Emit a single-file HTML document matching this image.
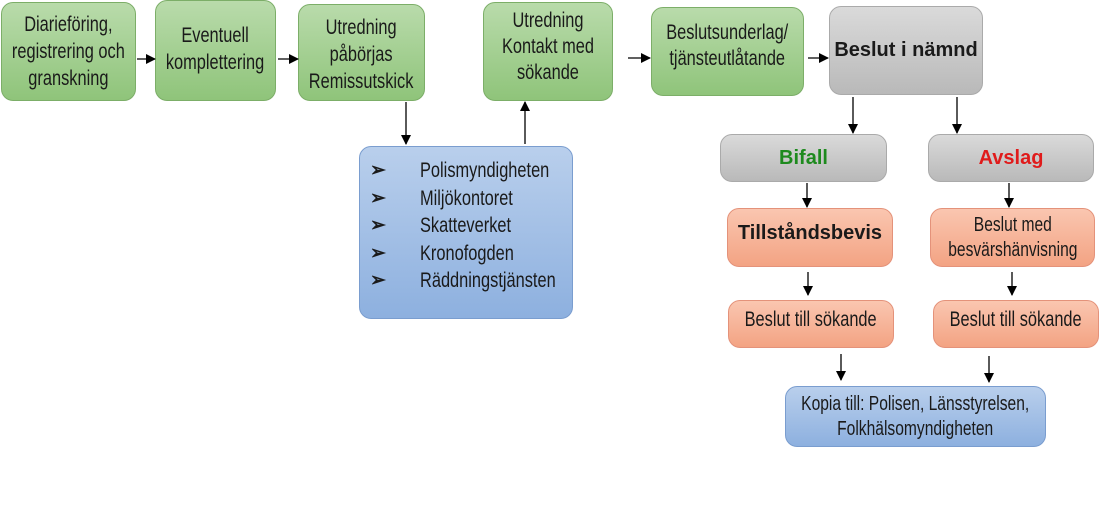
<!DOCTYPE html>
<html><head><meta charset="utf-8"><style>
body{margin:0;width:1100px;height:520px;background:#fff;position:relative;overflow:hidden;font-family:"Liberation Sans",sans-serif;color:#1a1a1a}
.b{position:absolute;box-sizing:border-box;border-radius:12px;display:flex;align-items:center;justify-content:center;text-align:center}
.t{display:inline-block;transform:scaleX(.78);white-space:nowrap;font-size:21px;line-height:27px}
.g{background:linear-gradient(#b9dbab,#8fc47a);border:1px solid #7cae68}
.gr{background:linear-gradient(#dadada,#b9b9b9);border:1px solid #aaa}
.o{background:linear-gradient(#fac6b0,#f3a383);border:1px solid #e4927a}
.bl{background:linear-gradient(#b9cfec,#8db0df);border:1px solid #7a9dcf}
.bold{font-weight:bold;font-size:20px}
svg{position:absolute;left:0;top:0}
</style></head><body>
<div class="b g" style="left:1px;top:2px;width:135px;height:99px"><span class="t">Diarieföring,<br>registrering och<br>granskning</span></div>
<div class="b g" style="left:155px;top:0;width:121px;height:101px;padding-bottom:4px"><span class="t">Eventuell<br>komplettering</span></div>
<div class="b g" style="left:298px;top:4px;width:127px;height:97px;padding-top:4px"><span class="t">Utredning<br>påbörjas<br>Remissutskick</span></div>
<div class="b g" style="left:483px;top:2px;width:130px;height:99px;align-items:flex-start;padding-top:5px"><span class="t" style="line-height:26px">Utredning<br>Kontakt med<br>sökande</span></div>
<div class="b g" style="left:651px;top:7px;width:153px;height:89px;align-items:flex-start;padding-top:12px"><span class="t" style="line-height:26px">Beslutsunderlag/<br>tjänsteutlåtande</span></div>
<div class="b gr bold" style="left:829px;top:6px;width:154px;height:89px;align-items:flex-start;padding-top:32px">Beslut i nämnd</div>
<div class="b bl" style="left:359px;top:146px;width:214px;height:173px;overflow:visible"></div>
<div style="position:absolute;left:370px;top:157px;width:40px;font-size:19px;line-height:27.5px;font-weight:bold">➢<br>➢<br>➢<br>➢<br>➢</div>
<span class="t" style="position:absolute;left:420px;top:157px;transform-origin:0 0;line-height:27.5px">Polismyndigheten<br>Miljökontoret<br>Skatteverket<br>Kronofogden<br>Räddningstjänsten</span>
<div class="b gr bold" style="left:720px;top:134px;width:167px;height:48px;color:#1e8a1e;align-items:flex-start;padding-top:12px">Bifall</div>
<div class="b gr bold" style="left:928px;top:134px;width:166px;height:48px;color:#e01b1b;align-items:flex-start;padding-top:12px">Avslag</div>
<div class="b o bold" style="left:727px;top:208px;width:166px;height:59px;align-items:flex-start;padding-top:13px">Tillståndsbevis</div>
<div class="b o" style="left:930px;top:208px;width:165px;height:59px"><span class="t" style="line-height:25px;font-size:20px">Beslut med<br>besvärshänvisning</span></div>
<div class="b o" style="left:728px;top:300px;width:166px;height:48px;align-items:flex-start;padding-top:5px"><span class="t">Beslut till sökande</span></div>
<div class="b o" style="left:933px;top:300px;width:166px;height:48px;align-items:flex-start;padding-top:5px"><span class="t">Beslut till sökande</span></div>
<div class="b bl" style="left:785px;top:386px;width:261px;height:61px"><span class="t" style="line-height:25px;font-size:20px">Kopia till: Polisen, Länsstyrelsen,<br>Folkhälsomyndigheten</span></div>
<svg width="1100" height="520">
<defs><marker id="a" markerWidth="10" markerHeight="10" refX="9" refY="5" orient="auto" markerUnits="userSpaceOnUse"><path d="M0,0L10,5L0,10z" fill="#000"/></marker></defs>
<g stroke="#000" stroke-width="1.3" marker-end="url(#a)">
<line x1="137" y1="59" x2="155" y2="59"/>
<line x1="278" y1="59" x2="298" y2="59"/>
<line x1="406" y1="102" x2="406" y2="144"/>
<line x1="525" y1="144" x2="525" y2="102"/>
<line x1="628" y1="58" x2="650" y2="58"/>
<line x1="808" y1="58" x2="828" y2="58"/>
<line x1="853" y1="97" x2="853" y2="133"/>
<line x1="957" y1="97" x2="957" y2="133"/>
<line x1="807" y1="183" x2="807" y2="207"/>
<line x1="1009" y1="183" x2="1009" y2="207"/>
<line x1="808" y1="272" x2="808" y2="295"/>
<line x1="1012" y1="272" x2="1012" y2="295"/>
<line x1="841" y1="354" x2="841" y2="380"/>
<line x1="989" y1="356" x2="989" y2="382"/>
</g></svg>
</body></html>
